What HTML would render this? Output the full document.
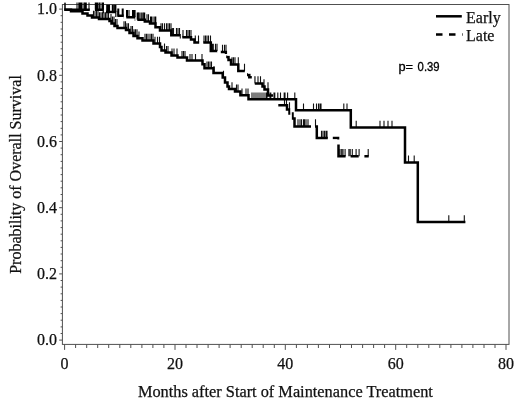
<!DOCTYPE html>
<html><head><meta charset="utf-8"><title>Overall Survival</title>
<style>
html,body{margin:0;padding:0;background:#fff;}
body{width:520px;height:406px;overflow:hidden;}
svg{display:block;}
text{font-family:"Liberation Serif",serif;font-size:16px;fill:#111;stroke:#111;stroke-width:0.25px;}
.p{font-family:"Liberation Sans",sans-serif;font-size:12.2px;fill:#000;stroke:#000;stroke-width:0.3px;}
</style></head><body>
<svg width="520" height="406" viewBox="0 0 520 406">
<defs><clipPath id="dv"><rect x="64.0" y="0.0" width="25.8" height="406.0"/><rect x="95.0" y="0.0" width="8.9" height="406.0"/><rect x="106.0" y="0.0" width="10.4" height="406.0"/><rect x="117.3" y="0.0" width="6.5" height="406.0"/><rect x="126.3" y="0.0" width="8.9" height="406.0"/><rect x="137.3" y="0.0" width="43.5" height="406.0"/><rect x="182.3" y="0.0" width="16.9" height="406.0"/><rect x="203.3" y="0.0" width="13.9" height="406.0"/><rect x="220.8" y="0.0" width="4.4" height="54.0"/><rect x="225.2" y="0.0" width="2.1" height="54.0"/><rect x="226.2" y="55.5" width="18.6" height="344.5"/><rect x="247.0" y="73.2" width="4.8" height="6.8"/><rect x="254.8" y="0.0" width="18.2" height="406.0"/><rect x="278.3" y="0.0" width="12.0" height="406.0"/><rect x="291.8" y="0.0" width="19.2" height="406.0"/><rect x="315.0" y="0.0" width="12.8" height="406.0"/><rect x="332.8" y="0.0" width="6.6" height="139.6"/><rect x="337.0" y="144.6" width="8.6" height="15.4"/><rect x="350.6" y="0.0" width="8.1" height="406.0"/><rect x="364.4" y="0.0" width="4.5" height="406.0"/></clipPath></defs>
<rect width="520" height="406" fill="#fff"/>
<rect x="62.4" y="4.5" width="446.6" height="339.9" fill="none" stroke="#505050" stroke-width="1"/>
<path d="M64.6 344.4v5.5M75.6 344.4v3.6M86.7 344.4v3.6M97.7 344.4v3.6M108.7 344.4v3.6M119.8 344.4v3.6M130.8 344.4v3.6M141.9 344.4v3.6M152.9 344.4v3.6M163.9 344.4v3.6M175.0 344.4v5.5M186.0 344.4v3.6M197.0 344.4v3.6M208.1 344.4v3.6M219.1 344.4v3.6M230.1 344.4v3.6M241.2 344.4v3.6M252.2 344.4v3.6M263.2 344.4v3.6M274.3 344.4v3.6M285.3 344.4v5.5M296.4 344.4v3.6M307.4 344.4v3.6M318.4 344.4v3.6M329.5 344.4v3.6M340.5 344.4v3.6M351.5 344.4v3.6M362.6 344.4v3.6M373.6 344.4v3.6M384.6 344.4v3.6M395.7 344.4v5.5M406.7 344.4v3.6M417.8 344.4v3.6M428.8 344.4v3.6M439.8 344.4v3.6M450.9 344.4v3.6M461.9 344.4v3.6M472.9 344.4v3.6M484.0 344.4v3.6M495.0 344.4v3.6M506.0 344.4v5.5M62.4 340.1h-3.2M62.4 333.5h-1.8M62.4 326.9h-1.8M62.4 320.2h-1.8M62.4 313.6h-1.8M62.4 307.0h-1.8M62.4 300.4h-1.8M62.4 293.8h-1.8M62.4 287.1h-1.8M62.4 280.5h-1.8M62.4 273.9h-3.2M62.4 267.3h-1.8M62.4 260.7h-1.8M62.4 254.0h-1.8M62.4 247.4h-1.8M62.4 240.8h-1.8M62.4 234.2h-1.8M62.4 227.6h-1.8M62.4 220.9h-1.8M62.4 214.3h-1.8M62.4 207.7h-3.2M62.4 201.1h-1.8M62.4 194.5h-1.8M62.4 187.8h-1.8M62.4 181.2h-1.8M62.4 174.6h-1.8M62.4 168.0h-1.8M62.4 161.4h-1.8M62.4 154.7h-1.8M62.4 148.1h-1.8M62.4 141.5h-3.2M62.4 134.9h-1.8M62.4 128.3h-1.8M62.4 121.6h-1.8M62.4 115.0h-1.8M62.4 108.4h-1.8M62.4 101.8h-1.8M62.4 95.2h-1.8M62.4 88.5h-1.8M62.4 81.9h-1.8M62.4 75.3h-3.2M62.4 68.7h-1.8M62.4 62.1h-1.8M62.4 55.4h-1.8M62.4 48.8h-1.8M62.4 42.2h-1.8M62.4 35.6h-1.8M62.4 29.0h-1.8M62.4 22.3h-1.8M62.4 15.7h-1.8M62.4 9.1h-3.2" stroke="#505050" stroke-width="1" fill="none"/>
<g><text x="64.6" y="369" text-anchor="middle">0</text><text x="175.0" y="369" text-anchor="middle">20</text><text x="285.3" y="369" text-anchor="middle">40</text><text x="395.7" y="369" text-anchor="middle">60</text><text x="506.0" y="369" text-anchor="middle">80</text></g>
<g><text x="57" y="345.3" text-anchor="end">0.0</text><text x="57" y="279.1" text-anchor="end">0.2</text><text x="57" y="212.9" text-anchor="end">0.4</text><text x="57" y="146.7" text-anchor="end">0.6</text><text x="57" y="80.5" text-anchor="end">0.8</text><text x="57" y="14.3" text-anchor="end">1.0</text></g>
<text x="285.4" y="396.7" text-anchor="middle" textLength="295" lengthAdjust="spacingAndGlyphs">Months after Start of Maintenance Treatment</text>
<text transform="translate(20.7 174.5) rotate(-90)" text-anchor="middle" textLength="198.7" lengthAdjust="spacingAndGlyphs">Probability of Overall Survival</text>
<path d="M65.0 9.8V2.6M77.0 9.8V2.6M83.0 9.8V2.6M84.5 9.8V2.6M89.0 9.8V2.6M99.5 9.8V2.6M101.0 9.8V2.6M109.5 12.0V4.8M114.3 12.0V4.8M129.0 17.3V10.1M138.3 19.8V12.6M139.8 19.8V12.6M141.3 19.8V12.6M142.8 19.8V12.6M147.0 21.4V14.2M148.5 21.4V14.2M153.0 23.6V16.4M161.0 30.4V23.2M162.5 30.4V23.2M164.5 30.4V23.2M166.5 30.4V23.2M168.0 30.4V23.2M169.5 30.4V23.2M171.0 30.4V23.2M172.3 35.3V28.1M173.5 35.3V28.1M176.5 35.3V28.1M178.0 35.3V28.1M179.5 35.3V28.1M183.0 37.3V30.1M186.5 37.3V30.1M188.0 37.3V30.1M189.5 37.3V30.1M191.0 37.3V30.1M195.3 42.6V35.4M198.5 42.6V35.4M204.0 42.6V35.4M205.5 42.6V35.4M207.0 42.6V35.4M208.5 42.6V35.4M210.5 42.6V35.4M212.3 51.0V43.8M213.3 51.0V43.8M215.5 51.0V43.8M217.0 51.0V43.8M222.5 52.0V44.8M224.5 52.0V44.8M226.0 52.0V44.8M232.0 64.5V57.3M233.5 64.5V57.3M235.0 64.5V57.3M238.3 64.5V57.3M244.5 71.0V63.8M255.0 83.5V76.3M258.0 83.5V76.3M260.5 83.5V76.3M264.0 86.5V79.3M268.0 89.5V82.3M284.5 105.3V98.1M286.5 105.3V98.1M289.5 109.5V102.3M298.0 126.5V119.3M300.0 126.5V119.3M301.5 126.5V119.3M303.5 126.5V119.3M304.5 126.5V119.3M306.0 126.5V119.3M308.0 126.5V119.3M315.5 126.5V119.3M321.5 138.0V130.8M323.0 138.0V130.8M324.5 138.0V130.8M326.0 138.0V130.8M327.0 138.0V130.8M340.0 156.2V149.0M341.7 156.2V149.0M343.0 156.2V149.0M345.1 156.2V149.0M348.9 156.2V149.0M350.2 156.2V149.0M352.3 156.2V149.0M356.1 156.2V149.0M359.1 156.2V149.0M368.2 156.2V149.0" stroke="#111" stroke-width="1.1" fill="none"/>
<path d="M79.3 9.8V2.6M81.0 9.8V2.6M85.8 9.8V2.6M95.8 9.8V2.6M97.6 9.8V2.6M103.0 9.8V2.6M107.2 12.0V4.8M108.6 12.0V4.8M112.8 12.0V4.8M115.4 12.0V4.8M118.3 15.8V8.6M122.7 15.8V8.6M127.0 17.3V10.1M133.0 17.3V10.1M134.6 17.3V10.1M137.7 19.8V12.6M144.2 19.8V12.6M151.0 23.6V16.4M155.3 23.6V16.4" stroke="#000" stroke-width="2" fill="none"/>
<path d="M65.0 9.8V3.0M93.5 17.6V10.8M95.0 17.6V10.8M96.5 17.6V10.8M98.0 17.6V10.8M99.5 19.1V12.3M101.0 19.1V12.3M102.5 19.1V12.3M104.0 19.1V12.3M105.5 19.1V12.3M107.0 19.1V12.3M108.5 19.1V12.3M111.0 20.9V14.1M112.5 23.4V16.6M114.0 23.4V16.6M115.5 25.9V19.1M117.0 25.9V19.1M124.0 28.0V21.2M125.5 28.0V21.2M127.0 30.1V23.3M128.5 30.1V23.3M131.0 32.9V26.1M132.5 32.9V26.1M134.0 36.1V29.3M135.5 36.1V29.3M137.0 36.1V29.3M139.0 38.3V31.5M145.0 40.6V33.8M146.5 40.6V33.8M148.0 40.6V33.8M150.0 40.6V33.8M151.5 40.6V33.8M153.0 40.6V33.8M155.0 43.6V36.8M157.5 43.6V36.8M159.5 43.6V36.8M164.5 50.4V43.6M166.5 52.6V45.9M168.0 52.6V45.9M172.0 55.4V48.6M174.0 55.4V48.6M177.0 55.4V48.6M182.0 57.6V50.9M183.5 57.6V50.9M185.0 57.6V50.9M190.0 60.6V53.9M192.0 60.6V53.9M195.5 60.6V53.9M202.0 60.6V53.9M207.0 68.3V61.5M208.5 68.3V61.5M210.0 68.3V61.5M211.5 68.3V61.5M214.0 72.9V66.1M223.5 77.6V70.8M232.0 89.1V82.3M236.5 91.4V84.6M238.0 91.4V84.6M242.0 95.2V88.4M246.0 95.2V88.4M248.0 95.2V88.4M252.0 99.3V92.5M254.0 99.3V92.5M256.0 99.3V92.5M258.0 99.3V92.5M260.0 99.3V92.5M262.0 99.3V92.5M264.0 99.3V92.5M266.0 99.3V92.5M267.0 99.3V92.5M270.0 99.3V92.5M270.8 99.3V92.5M274.0 99.3V92.5M274.8 99.3V92.5M277.8 99.3V92.5M280.5 99.3V92.5M284.2 99.3V92.5M285.0 99.3V92.5M287.6 99.3V92.5M294.8 99.3V92.5M303.5 110.3V103.5M313.5 110.3V103.5M316.5 110.3V103.5M318.5 110.3V103.5M320.0 110.3V103.5M321.0 110.3V103.5M343.8 110.3V103.5M347.0 110.3V103.5M356.2 127.5V120.7M380.0 127.5V120.7M384.0 127.5V120.7M388.0 127.5V120.7M392.0 127.5V120.7M408.5 162.4V155.6M414.2 162.4V155.6M448.8 222.0V215.2M464.3 222.0V215.2" stroke="#111" stroke-width="1.1" fill="none"/>
<path d="M64.5 9.8L103.8 9.8L103.8 12.0L116.5 12.0L116.5 15.8L125.0 15.8L125.0 17.3L136.0 17.3L136.0 19.8L144.8 19.8L144.8 21.4L150.0 21.4L150.0 23.6L155.5 23.6L155.5 27.3L160.0 27.3L160.0 30.4L171.3 30.4L171.3 35.3L181.0 35.3L181.0 37.3L191.0 37.3L191.0 39.5L194.5 39.5L194.5 42.6L210.8 42.6L210.8 51.0L219.0 51.0L219.0 52.0L226.0 52.0L226.0 57.0L228.5 57.0L228.5 60.0L231.0 60.0L231.0 64.5L238.3 64.5L238.3 71.0L246.8 71.0L246.8 75.0L249.3 75.0L249.3 77.3L253.5 77.3L253.5 83.5L262.5 83.5L262.5 86.5L264.5 86.5L264.5 89.5L268.0 89.5L268.0 95.5L276.0 95.5L276.0 105.3L287.0 105.3L287.0 109.5L289.5 109.5L289.5 113.5L292.5 113.5L292.5 118.5L294.5 118.5L294.5 126.5L316.8 126.5L316.8 138.0L338.5 138.0L338.5 156.2L368.8 156.2" stroke="#000" stroke-width="2.5" fill="none" stroke-linejoin="miter" clip-path="url(#dv)"/>
<path d="M64.3 9.8L71.0 9.8L71.0 11.2L82.5 11.2L82.5 13.6L87.5 13.6L87.5 15.6L92.0 15.6L92.0 17.6L99.0 17.6L99.0 19.1L109.5 19.1L109.5 20.9L111.5 20.9L111.5 23.4L114.5 23.4L114.5 25.9L117.5 25.9L117.5 28.0L126.0 28.0L126.0 30.1L129.5 30.1L129.5 32.9L133.5 32.9L133.5 36.1L137.5 36.1L137.5 38.3L142.5 38.3L142.5 40.6L153.5 40.6L153.5 43.6L160.0 43.6L160.0 47.1L161.5 47.1L161.5 50.4L165.5 50.4L165.5 52.6L171.5 52.6L171.5 55.4L177.5 55.4L177.5 57.6L187.0 57.6L187.0 60.6L202.5 60.6L202.5 64.3L204.5 64.3L204.5 68.3L213.5 68.3L213.5 72.9L222.7 72.9L222.7 77.6L225.0 77.6L225.0 82.6L227.5 82.6L227.5 86.6L229.0 86.6L229.0 89.1L235.0 89.1L235.0 91.4L240.4 91.4L240.4 95.2L248.5 95.2L248.5 99.3L296.0 99.3L296.0 110.3L350.8 110.3L350.8 127.5L405.0 127.5L405.0 162.4L417.8 162.4L417.8 222.0L465.4 222.0" stroke="#000" stroke-width="2.5" fill="none" stroke-linejoin="miter"/>
<path d="M436 16.3H461.8" stroke="#000" stroke-width="2.5"/>
<path d="M436 34.5H462.6" stroke="#000" stroke-width="2.5" stroke-dasharray="6.5 6.5"/>
<text x="466" y="23.2">Early</text>
<text x="466" y="41.4">Late</text>
<text class="p" x="398.4" y="71.2"><tspan textLength="14.6" lengthAdjust="spacingAndGlyphs">p=</tspan><tspan> </tspan><tspan x="417.6" textLength="22" lengthAdjust="spacingAndGlyphs">0.39</tspan></text>
</svg>
</body></html>
